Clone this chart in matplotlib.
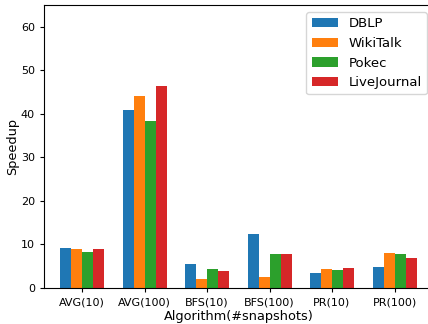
import numpy as np
import matplotlib.pyplot as plt

algorithms = ["AVG(10)", "AVG(100)", "BFS(10)", "BFS(100)", "PR(10)", "PR(100)"]
datasets = ["DBLP", "WikiTalk", "Pokec", "LiveJournal"]

dblp = [9.1, 40.9, 5.6, 12.3, 3.5, 4.9]
wikitalk = [8.9, 44.1, 2.1, 2.6, 4.4, 8.1]
pokec = [8.2, 38.3, 4.4, 7.7, 4.2, 7.9]
livejournal = [8.9, 46.4, 4.0, 7.7, 4.7, 6.8]

series = [dblp, wikitalk, pokec, livejournal]
colors = ["#1f77b4", "#ff7f0e", "#2ca02c", "#d62728"]

fig = plt.figure(figsize=(4.28, 3.24), dpi=100)
# right spine runs just past the canvas edge
ax = fig.add_axes([44 / 428, 36 / 324, 390 / 428, 283 / 324])

x = np.arange(len(algorithms))
width = 0.176
for i, (name, vals) in enumerate(zip(datasets, series)):
    offset = (i - 1.5) * width
    ax.bar(x + offset, vals, width, label=name, color=colors[i])

ax.set_xticks(x)
ax.set_xticklabels(algorithms)
ax.tick_params(labelsize=8, length=3)
ax.set_xlim(-0.608, 5.632)
ax.set_ylim(0, 65)
ax.set_yticks(range(0, 61, 10))
ax.set_xlabel("Algorithm(#snapshots)", fontsize=9.3, labelpad=2)
ax.set_ylabel("Speedup", fontsize=9.3, labelpad=1)
ax.legend(loc="upper right", fontsize=9.5,
          bbox_to_anchor=(0.982, 0.975), borderaxespad=0)

fig.savefig("out.png", dpi=100)
